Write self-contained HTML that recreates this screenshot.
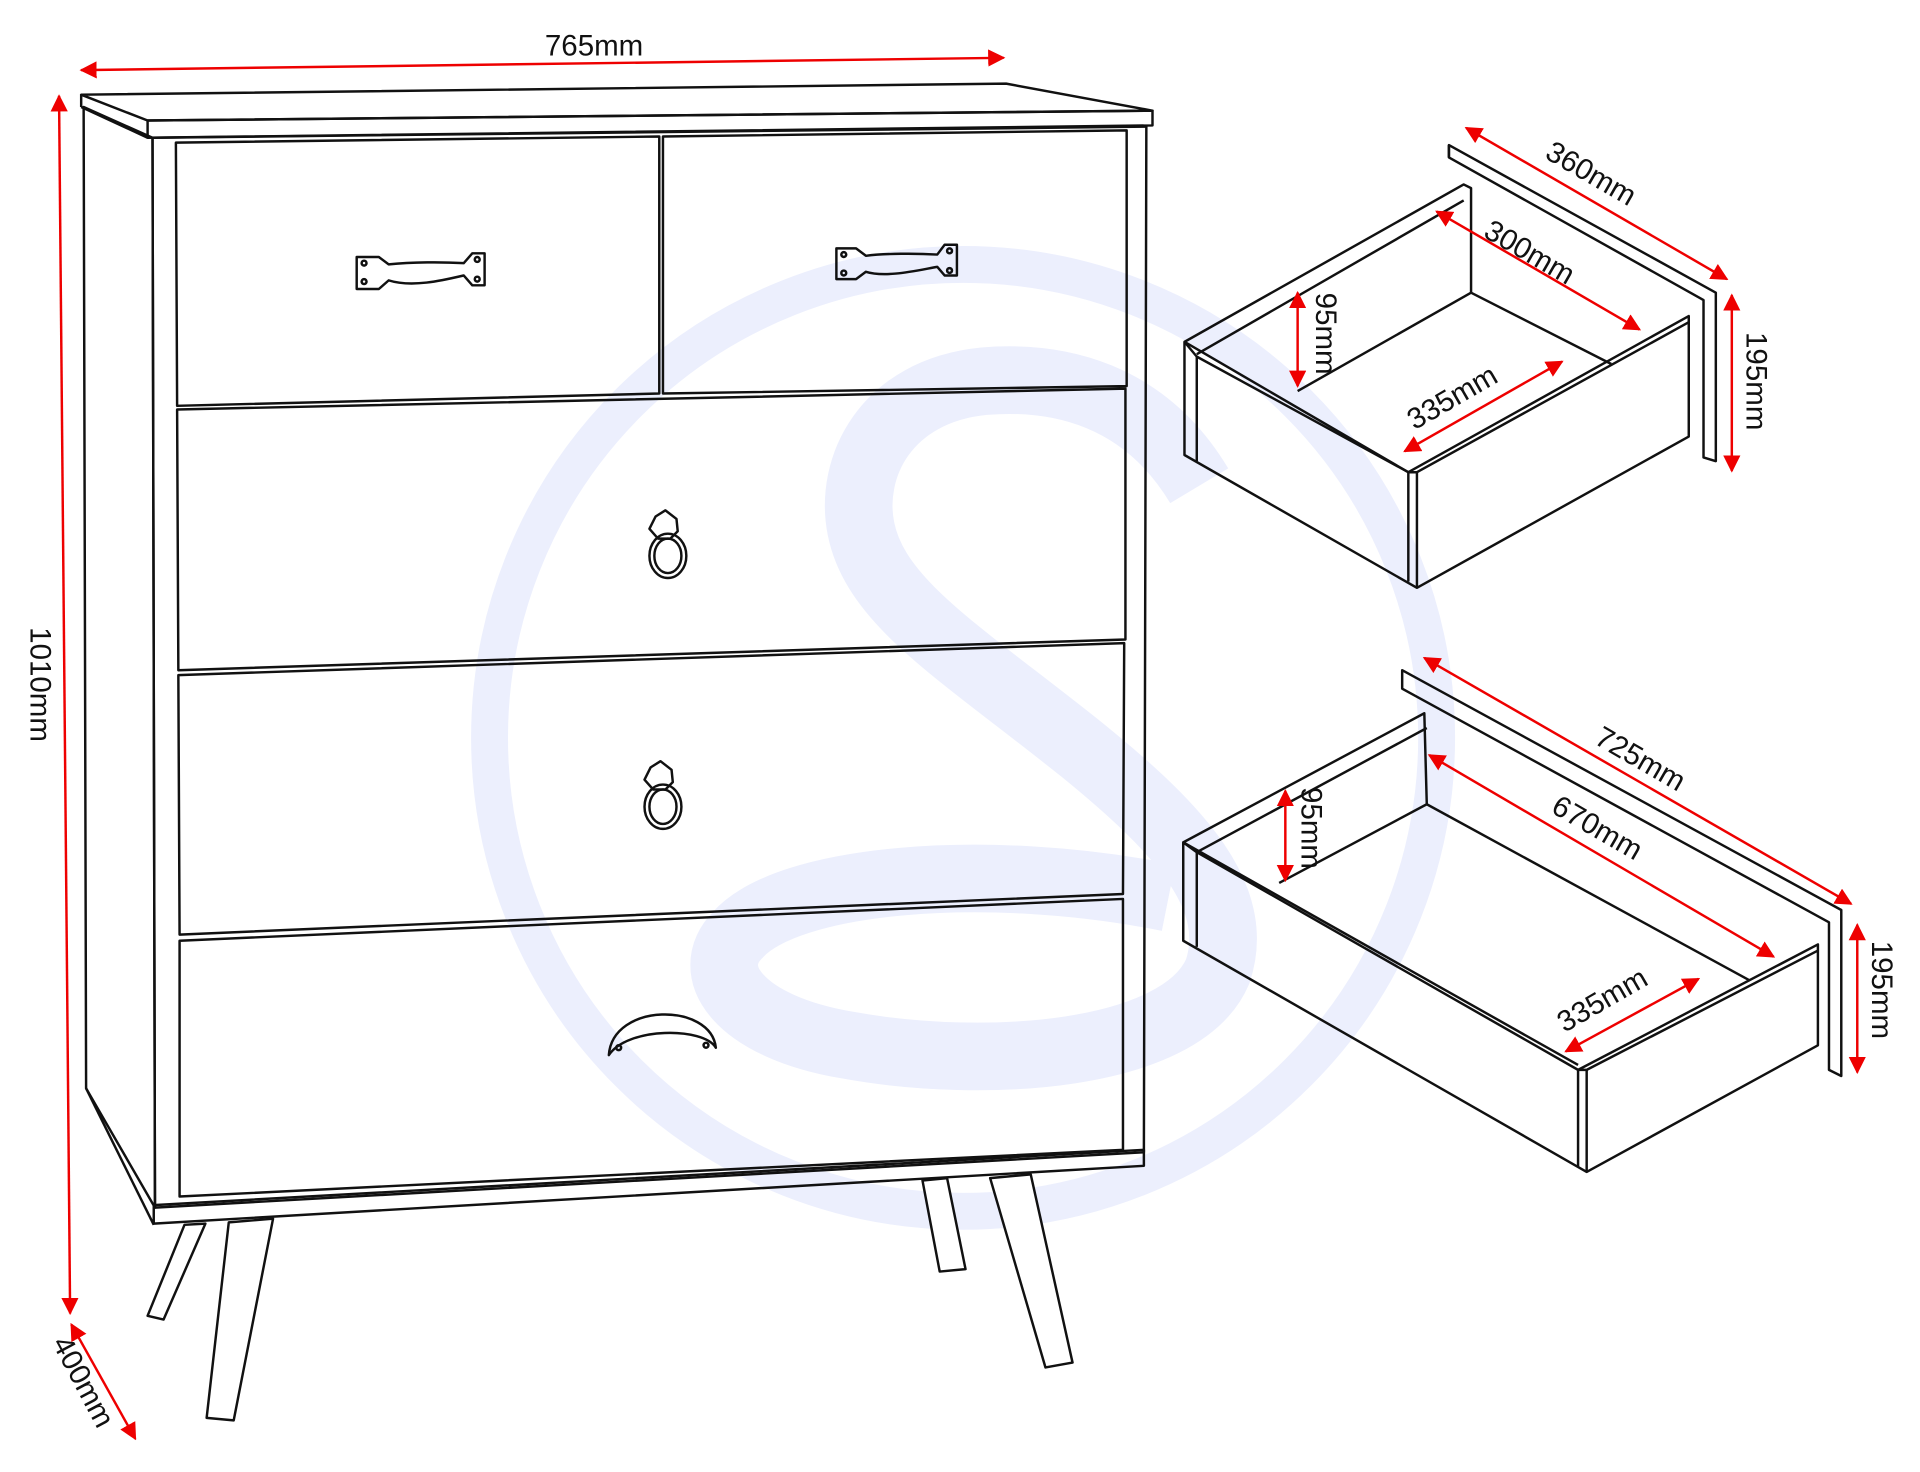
<!DOCTYPE html>
<html><head><meta charset="utf-8"><style>html,body{margin:0;padding:0;background:#fff}svg{display:block}</style></head>
<body>
<svg width="1920" height="1472" viewBox="0 0 1561 1197" preserveAspectRatio="none" xmlns="http://www.w3.org/2000/svg">
<defs>
<marker id="a" viewBox="0 0 10 10" refX="9" refY="5" markerWidth="7" markerHeight="7" orient="auto-start-reverse"><path d="M0,0 L10,5 L0,10 z" fill="#e00"/></marker>
</defs>
<g fill="none" stroke="#eceffd">
<circle cx="783" cy="600" r="385" stroke-width="30"/>
<path d="M975,395 C930,320 860,305 800,310 C720,318 690,380 700,430 C712,490 780,530 880,610 C960,675 1010,730 990,790 C960,860 800,870 690,850 C600,835 570,790 600,760 C640,715 800,700 950,730" stroke-width="55"/>
</g>
<g fill="none" stroke="#111" stroke-width="2" stroke-linejoin="round">
<polygon points="66,77 818,68 937,90 120,98"/>
<polygon points="120,98 937,90 937,102 120,112"/>
<line x1="66" y1="77" x2="66" y2="87"/><line x1="66" y1="87" x2="120" y2="112"/>
<polygon points="68,87 124,112 126,982 70,885"/>
<line x1="70" y1="885" x2="125" y2="996"/>
<polygon points="124,112 932,103 930,937 126,982"/>
<polygon points="125,980 930,935 930,948 125,995"/>
<polygon points="143,116 536,111 536,320 144,330"/>
<polygon points="539,111 916,106 916,314 539,320"/>
<polygon points="144,333 915,316 915,520 145,545"/>
<polygon points="145,549 914,523 913,727 146,760"/>
<polygon points="146,765 913,731 913,935 146,973"/>
<polygon points="150,996 167,995 133,1073 120,1070" fill="#fff"/>
<polygon points="186,994 222,991 190,1155 168,1153" fill="#fff"/>
<polygon points="750,960 770,958 785,1032 764,1034" fill="#fff"/>
<polygon points="805,958 838,955 872,1108 850,1112" fill="#fff"/>
<path d="M290,209 L308,209 L316,215 C335,213 360,213 377,214 L384,206 L394,206 L394,232 L384,232 L377,224 C360,228 335,234 316,228 L308,235 L290,235 z"/>
<circle cx="296" cy="214" r="2"/><circle cx="296" cy="229" r="2"/><circle cx="388" cy="211" r="2"/><circle cx="388" cy="227" r="2"/>
<path d="M680,202 L696,202 L704,208 C720,206 745,206 762,207 L768,199 L778,199 L778,224 L768,224 L762,217 C745,220 720,226 704,221 L696,227 L680,227 z"/>
<circle cx="686" cy="207" r="2"/><circle cx="686" cy="222" r="2"/><circle cx="772" cy="204" r="2"/><circle cx="772" cy="220" r="2"/>
<path d="M533,420 L541,415 L550,422 L551,432 L545,438 L535,438 L528,430 z"/>
<ellipse cx="543" cy="452" rx="15" ry="18"/><ellipse cx="543" cy="452" rx="11" ry="14"/>
<path d="M529,624 L537,619 L546,626 L547,636 L541,642 L531,642 L524,634 z"/>
<ellipse cx="539" cy="656" rx="15" ry="18"/><ellipse cx="539" cy="656" rx="11" ry="14"/>
<path d="M495,858 C498,815 578,815 582,852 C572,835 510,835 495,858 z"/>
<circle cx="503" cy="852" r="2"/><circle cx="574" cy="850" r="2"/>
<polygon points="1178,118 1395,238 1395,375 1385,372 1385,244 1178,128"/>
<line x1="1178" y1="118" x2="1178" y2="128"/>
<polyline points="963,278 1190,150 1196,153 1196,238"/>
<line x1="973" y1="288" x2="1190" y2="163"/>
<line x1="1055" y1="318" x2="1196" y2="238"/>
<line x1="1196" y1="238" x2="1310" y2="296"/>
<polygon points="963,278 973,290 1145,384 1373,257 1373,355 1152,478 963,370"/>
<line x1="963" y1="278" x2="1145" y2="384"/>
<line x1="973" y1="290" x2="973" y2="375"/>
<line x1="1145" y1="384" x2="1145" y2="473"/>
<line x1="1152" y1="384" x2="1152" y2="478"/>
<polyline points="1145,384 1152,384 1373,262"/>
<polygon points="1140,545 1497,740 1497,875 1487,870 1487,750 1140,560"/>
<polyline points="962,685 1158,580 1160,654"/>
<line x1="973" y1="693" x2="1160" y2="592"/>
<line x1="1040" y1="718" x2="1160" y2="654"/>
<line x1="1160" y1="654" x2="1422" y2="797"/>
<polygon points="962,685 973,693 1283,870 1478,768 1478,850 1290,953 962,765"/>
<line x1="962" y1="685" x2="1283" y2="866"/>
<line x1="973" y1="693" x2="973" y2="770"/>
<line x1="1283" y1="870" x2="1283" y2="949"/>
<line x1="1290" y1="870" x2="1290" y2="953"/>
<polyline points="1283,870 1290,870 1478,773"/>
</g>
<g stroke="#e00" stroke-width="2" fill="none" marker-start="url(#a)" marker-end="url(#a)">
<line x1="66" y1="57" x2="816" y2="47"/>
<line x1="48" y1="78" x2="57" y2="1068"/>
<line x1="58" y1="1077" x2="110" y2="1170"/>
<line x1="1192" y1="104" x2="1404" y2="227"/>
<line x1="1168" y1="172" x2="1333" y2="268"/>
<line x1="1408" y1="240" x2="1408" y2="383"/>
<line x1="1055" y1="238" x2="1055" y2="314"/>
<line x1="1142" y1="367" x2="1270" y2="294"/>
<line x1="1158" y1="535" x2="1505" y2="735"/>
<line x1="1162" y1="614" x2="1442" y2="778"/>
<line x1="1510" y1="752" x2="1510" y2="872"/>
<line x1="1045" y1="643" x2="1045" y2="716"/>
<line x1="1273" y1="855" x2="1381" y2="796"/>
</g>
<g font-family="Liberation Sans, sans-serif" font-size="24" fill="#111">
<text x="443" y="45">765mm</text>
<text transform="translate(25,510) rotate(90)">1010mm</text>
<text transform="translate(42,1092) rotate(62)">400mm</text>
<text transform="translate(1255,128) rotate(30)">360mm</text>
<text transform="translate(1205,192) rotate(30)">300mm</text>
<text transform="translate(1420,270) rotate(90)">195mm</text>
<text transform="translate(1070,238) rotate(90)">95mm</text>
<text transform="translate(1150,350) rotate(-30)">335mm</text>
<text transform="translate(1295,604) rotate(30)">725mm</text>
<text transform="translate(1260,660) rotate(30)">670mm</text>
<text transform="translate(1522,765) rotate(90)">195mm</text>
<text transform="translate(1058,640) rotate(90)">95mm</text>
<text transform="translate(1272,840) rotate(-30)">335mm</text>
</g>
</svg>
</body></html>
